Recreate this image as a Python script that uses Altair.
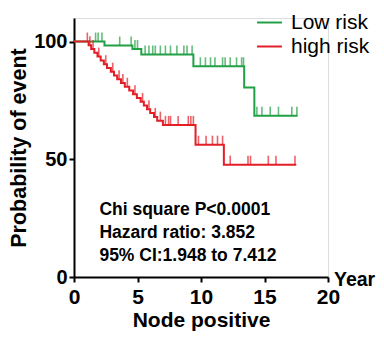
import altair as alt
import pandas as pd

groups = ["Low risk", "high risk"]
colors = ["#22a046", "#e41e26"]

# Low risk group: event times and survival after each event
low_event_t = [2.4, 4.6, 5.3, 9.4, 13.4, 14.2]
low_event_s = [98.3, 96.8, 94.5, 89.5, 80.5, 68.5]
low_end = 17.6
low_cens = [1.7, 1.9, 2.2, 3.6, 4.5, 4.8, 5.0, 5.6, 5.9, 6.2, 6.4, 6.8, 7.2, 7.6,
            8.1, 8.65, 8.9, 9.3, 9.95, 10.35, 10.75, 11.1, 11.7, 11.9, 12.3, 12.8,
            13.2, 13.35, 14.4, 14.8, 15.45, 16.1, 17.15, 17.55]

# High risk group
high_event_t = [1.15, 1.35, 1.6, 1.85, 2.1, 2.35, 2.6, 2.9, 3.15, 3.4, 3.7, 4.0,
                4.35, 4.65, 4.95, 5.25, 5.5, 5.75, 6.0, 6.3, 6.55, 7.0, 9.57, 11.8]
high_event_s = [98.4, 96.8, 95.2, 93.6, 92.0, 90.4, 88.8, 87.2, 85.6, 84.0, 82.4, 80.8,
                79.2, 77.6, 76.0, 74.4, 72.8, 71.2, 69.6, 68.0, 66.4, 64.6, 56.2, 47.7]
high_end = 17.5
high_cens = [1.05, 1.25, 1.5, 1.95, 2.5, 3.05, 3.55, 3.85, 4.2, 4.8, 5.4, 5.9, 6.4,
             6.8, 7.2, 7.45, 7.6, 8.2, 9.0, 9.2, 9.4, 9.8, 10.4, 10.9, 11.3, 11.7,
             12.3, 13.7, 13.9, 15.3, 15.9, 17.4]

stats_text = ["Chi square P<0.0001", "Hazard ratio: 3.852", "95% CI:1.948 to 7.412"]

FONT = "Liberation Sans"


def step_value(ts, ss, t):
    v = 100.0
    for et, es in zip(ts, ss):
        if et <= t:
            v = es
    return v


line_rows, tick_rows = [], []
for g, ts, ss, end, cens in [
    (groups[0], low_event_t, low_event_s, low_end, low_cens),
    (groups[1], high_event_t, high_event_s, high_end, high_cens),
]:
    line_rows.append({"group": g, "t": 0.0, "s": 100.0})
    for et, es in zip(ts, ss):
        line_rows.append({"group": g, "t": et, "s": es})
    line_rows.append({"group": g, "t": end, "s": ss[-1]})
    for c in cens:
        tick_rows.append({"group": g, "t": c, "s": step_value(ts, ss, c)})

lines_df = pd.DataFrame(line_rows)
ticks_df = pd.DataFrame(tick_rows)

xscale = alt.Scale(domain=[0, 20], nice=False, zero=False)
yscale = alt.Scale(domain=[0, 110], nice=False)
color = alt.Color(
    "group:N",
    scale=alt.Scale(domain=groups, range=colors),
    legend=alt.Legend(
        title=None, orient="none", legendX=182, legendY=-9,
        symbolType="stroke", symbolSize=620, symbolStrokeWidth=2,
        labelFont=FONT, labelFontSize=21, labelColor="black",
        labelOffset=8, rowPadding=0,
    ),
)

xaxis = alt.Axis(
    values=[0, 5, 10, 15, 20], title="Node positive", grid=False,
    domainColor="black", domainWidth=2, tickColor="black", tickWidth=2, tickSize=5,
    labelFont=FONT, labelFontSize=21, labelFontWeight="bold", labelColor="black",
    labelPadding=4, labelFlush=False,
    titleFont=FONT, titleFontSize=21, titleFontWeight="bold", titleColor="black",
    titlePadding=2,
)
yaxis = alt.Axis(
    values=[0, 50, 100], title="Probability of event", grid=False,
    domainColor="black", domainWidth=2, tickColor="black", tickWidth=2, tickSize=5,
    labelFont=FONT, labelFontSize=20, labelFontWeight="bold", labelColor="black",
    labelPadding=2, labelFlush=False,
    titleFont=FONT, titleFontSize=21.5, titleFontWeight="bold", titleColor="black",
    titlePadding=3,
)

lines = alt.Chart(lines_df).mark_line(interpolate="step-after", strokeWidth=2).encode(
    x=alt.X("t:Q", scale=xscale, axis=xaxis),
    y=alt.Y("s:Q", scale=yscale, axis=yaxis),
    color=color,
)

ticks = alt.Chart(ticks_df).mark_tick(
    orient="vertical", size=9, thickness=1.6, yOffset=-4.5
).encode(
    x=alt.X("t:Q", scale=xscale),
    y=alt.Y("s:Q", scale=yscale),
    color=alt.Color("group:N", scale=alt.Scale(domain=groups, range=colors), legend=None),
)

stats = alt.Chart().mark_text(
    text=stats_text, align="left", baseline="top", font=FONT, fontSize=17.5,
    fontWeight="bold", lineHeight=23, color="black",
).encode(x=alt.datum(2.0), y=alt.datum(32.3))

year = alt.Chart().mark_text(
    text="Year", align="left", baseline="middle", dx=6, dy=3, font=FONT,
    fontSize=19.5, fontWeight="bold", color="black",
).encode(x=alt.datum(20), y=alt.datum(0))

chart = alt.layer(lines, ticks, stats, year).properties(
    width=254, height=259,
    padding={"left": 66, "top": 10, "right": 48, "bottom": 55},
    autosize=alt.AutoSizeParams(type="none"),
).configure_view(stroke=None).configure(background="white")

chart.save("out.html", embed_options={"renderer": "svg", "actions": False})
